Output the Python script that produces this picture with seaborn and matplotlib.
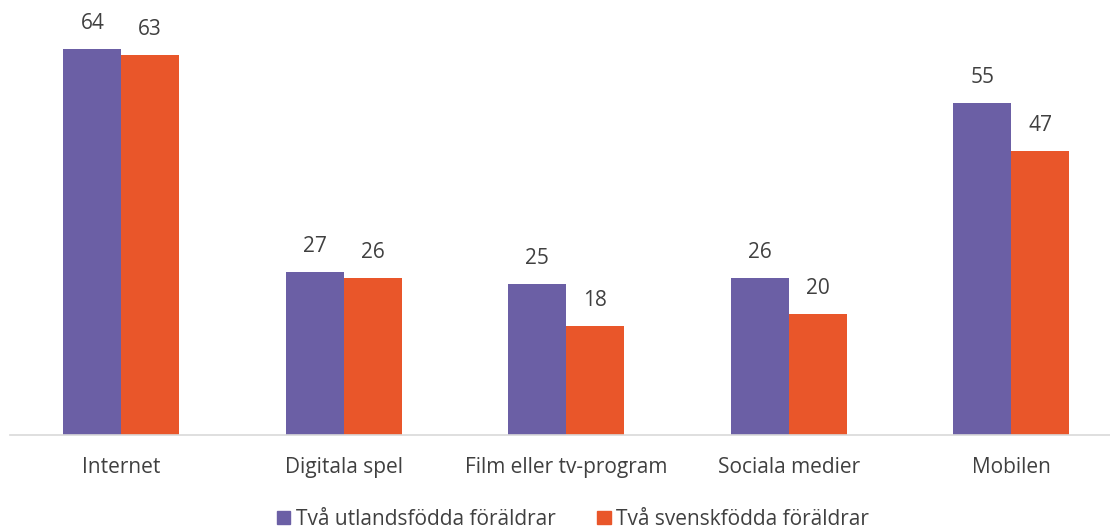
import matplotlib
matplotlib.use("Agg")
import matplotlib.pyplot as plt
import seaborn as sns
import pandas as pd

categories = ["Internet", "Digitala spel", "Film eller tv-program", "Sociala medier", "Mobilen"]
series_names = ["Två utlandsfödda föräldrar", "Två svenskfödda föräldrar"]
utlandsfodda = [64, 27, 25, 26, 55]
svenskfodda = [63, 26, 18, 20, 47]
colors = ["#6B5FA5", "#E9562A"]

df = pd.DataFrame({
    "kategori": categories * 2,
    "grupp": [series_names[0]] * len(categories) + [series_names[1]] * len(categories),
    "andel": utlandsfodda + svenskfodda,
})

sns.set_theme(style="white")
plt.rcParams["font.family"] = ["Open Sans", "DejaVu Sans"]
text_color = "#404040"
fs = 15

fig = plt.figure(figsize=(11.10, 5.31), dpi=100)
ax = fig.add_axes([10 / 1110, 96 / 531, 1100 / 1110, 435 / 531])

sns.barplot(data=df, x="kategori", y="andel", hue="grupp", order=categories,
            hue_order=series_names, palette=colors, width=0.52, saturation=1,
            edgecolor="none", ax=ax, legend=False)

for container in ax.containers:
    ax.bar_label(container, labels=[f"{v:.0f}" for v in container.datavalues],
                 padding=11, fontsize=fs, color=text_color)

ax.set_xlim(-0.5, 4.444)
ax.set_ylim(0, 72.1)
ax.set_xlabel("")
ax.set_ylabel("")
ax.set_yticks([])
for side in ["top", "right", "left"]:
    ax.spines[side].set_visible(False)
ax.spines["bottom"].set_color("#d9d9d9")
ax.spines["bottom"].set_linewidth(1.2)
ax.tick_params(axis="x", length=0, pad=16, labelsize=fs, labelcolor=text_color)

handles = [plt.Rectangle((0, 0), 1, 1, color=c) for c in colors]
fig.legend(handles, series_names, loc="center", bbox_to_anchor=(0.516, 0.022),
           ncol=2, frameon=False, fontsize=fs, labelcolor=text_color,
           handlelength=0.65, handleheight=0.65, handletextpad=0.25, columnspacing=2.0)

fig.savefig("out.png", dpi=100)
